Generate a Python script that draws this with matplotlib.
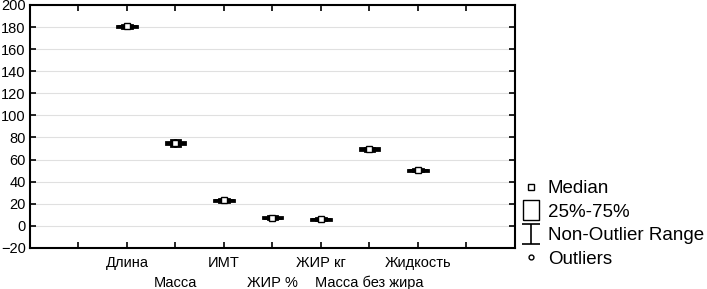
import numpy as np
import matplotlib.pyplot as plt
from matplotlib.lines import Line2D
from matplotlib.path import Path

plt.rcParams['font.family'] = ['Liberation Sans', 'DejaVu Sans']

# данные
labels = ['Длина', 'Масса', 'ИМТ', 'ЖИР %', 'ЖИР кг', 'Масса без жира', 'Жидкость']
med = [180.5, 75.0, 23.0, 7.5, 6.0, 69.5, 50.5]
q1 = [179.9, 74.2, 22.5, 7.0, 5.5, 68.9, 50.0]
q3 = [181.1, 75.8, 23.5, 8.0, 6.5, 70.1, 51.0]
lo = [179.0, 72.5, 22.0, 6.3, 4.9, 68.2, 49.4]
hi = [182.0, 77.5, 24.2, 8.8, 7.2, 70.9, 51.7]
yticks = [-20, 0, 20, 40, 60, 80, 100, 120, 140, 160, 180, 200]

fig = plt.figure(figsize=(7.07, 2.89), dpi=100)
ax = fig.add_axes([0.0424, 0.142, 0.686, 0.841])

pos = np.arange(2, 2 + len(labels))
stats = []
for i, name in enumerate(labels):
    stats.append(dict(label=name, med=med[i], q1=q1[i], q3=q3[i],
                      whislo=lo[i], whishi=hi[i], fliers=[]))

ax.bxp(stats, positions=pos, widths=0.4, patch_artist=True, showfliers=False,
       boxprops=dict(facecolor='black', edgecolor='black', linewidth=2),
       whiskerprops=dict(color='black', linewidth=2),
       capprops=dict(color='black', linewidth=2),
       medianprops=dict(color='black', linewidth=2),
       manage_ticks=False)
ax.plot(pos, med, 's', ms=4, mfc='white', mec='black', mew=1, zorder=5)

ax.set_xlim(0, 10)
ax.set_ylim(-20, 200)
ax.set_yticks(yticks)
ax.grid(True, axis='y', color='#e0e0e0', lw=0.8)
ax.set_axisbelow(True)

# подписи в два ряда: первый ряд - основные деления, второй - дополнительные
row1 = [p for i, p in enumerate(pos) if i % 2 == 0]
row2 = [p for i, p in enumerate(pos) if i % 2 == 1]
ax.set_xticks([1] + row1 + [9])
ax.set_xticklabels([''] + labels[0::2] + [''], fontsize=10.5)
ax.set_xticks(row2, minor=True)
ax.set_xticklabels(labels[1::2], minor=True, fontsize=10.5)
ax.tick_params(axis='both', which='both', direction='in', top=True, right=True,
               length=4, width=1.2)
ax.tick_params(axis='y', labelsize=10.5, pad=3)
ax.tick_params(axis='x', which='major', pad=6)
ax.tick_params(axis='x', which='minor', pad=20)
for s in ax.spines.values():
    s.set_linewidth(1.5)

# легенда
ibar = Path([(-0.45, -0.5), (0.45, -0.5), (0, -0.5), (0, 0.5), (-0.45, 0.5), (0.45, 0.5)],
            [Path.MOVETO, Path.LINETO, Path.MOVETO, Path.LINETO, Path.MOVETO, Path.LINETO])
rect = Path([(-0.42, -0.5), (0.42, -0.5), (0.42, 0.5), (-0.42, 0.5), (-0.42, -0.5)])
handles = [
    Line2D([], [], ls='none', marker='s', ms=4, mfc='white', mec='black', mew=1),
    Line2D([], [], ls='none', marker=rect, ms=14.4, mfc='white', mec='black', mew=1),
    Line2D([], [], ls='none', marker=ibar, ms=13.7, mfc='none', mec='black', mew=1.2),
    Line2D([], [], ls='none', marker='o', ms=3.5, mfc='white', mec='black', mew=1),
]
names = ['Median', '25%-75%', 'Non-Outlier Range', 'Outliers']
fig.legend(handles, names, loc='upper left', bbox_to_anchor=(0.7366, 0.377),
           frameon=False, fontsize=13.5, handlelength=1.1, handletextpad=0.35,
           labelspacing=0.34, borderpad=0, borderaxespad=0)

plt.savefig('out.png', dpi=100)
